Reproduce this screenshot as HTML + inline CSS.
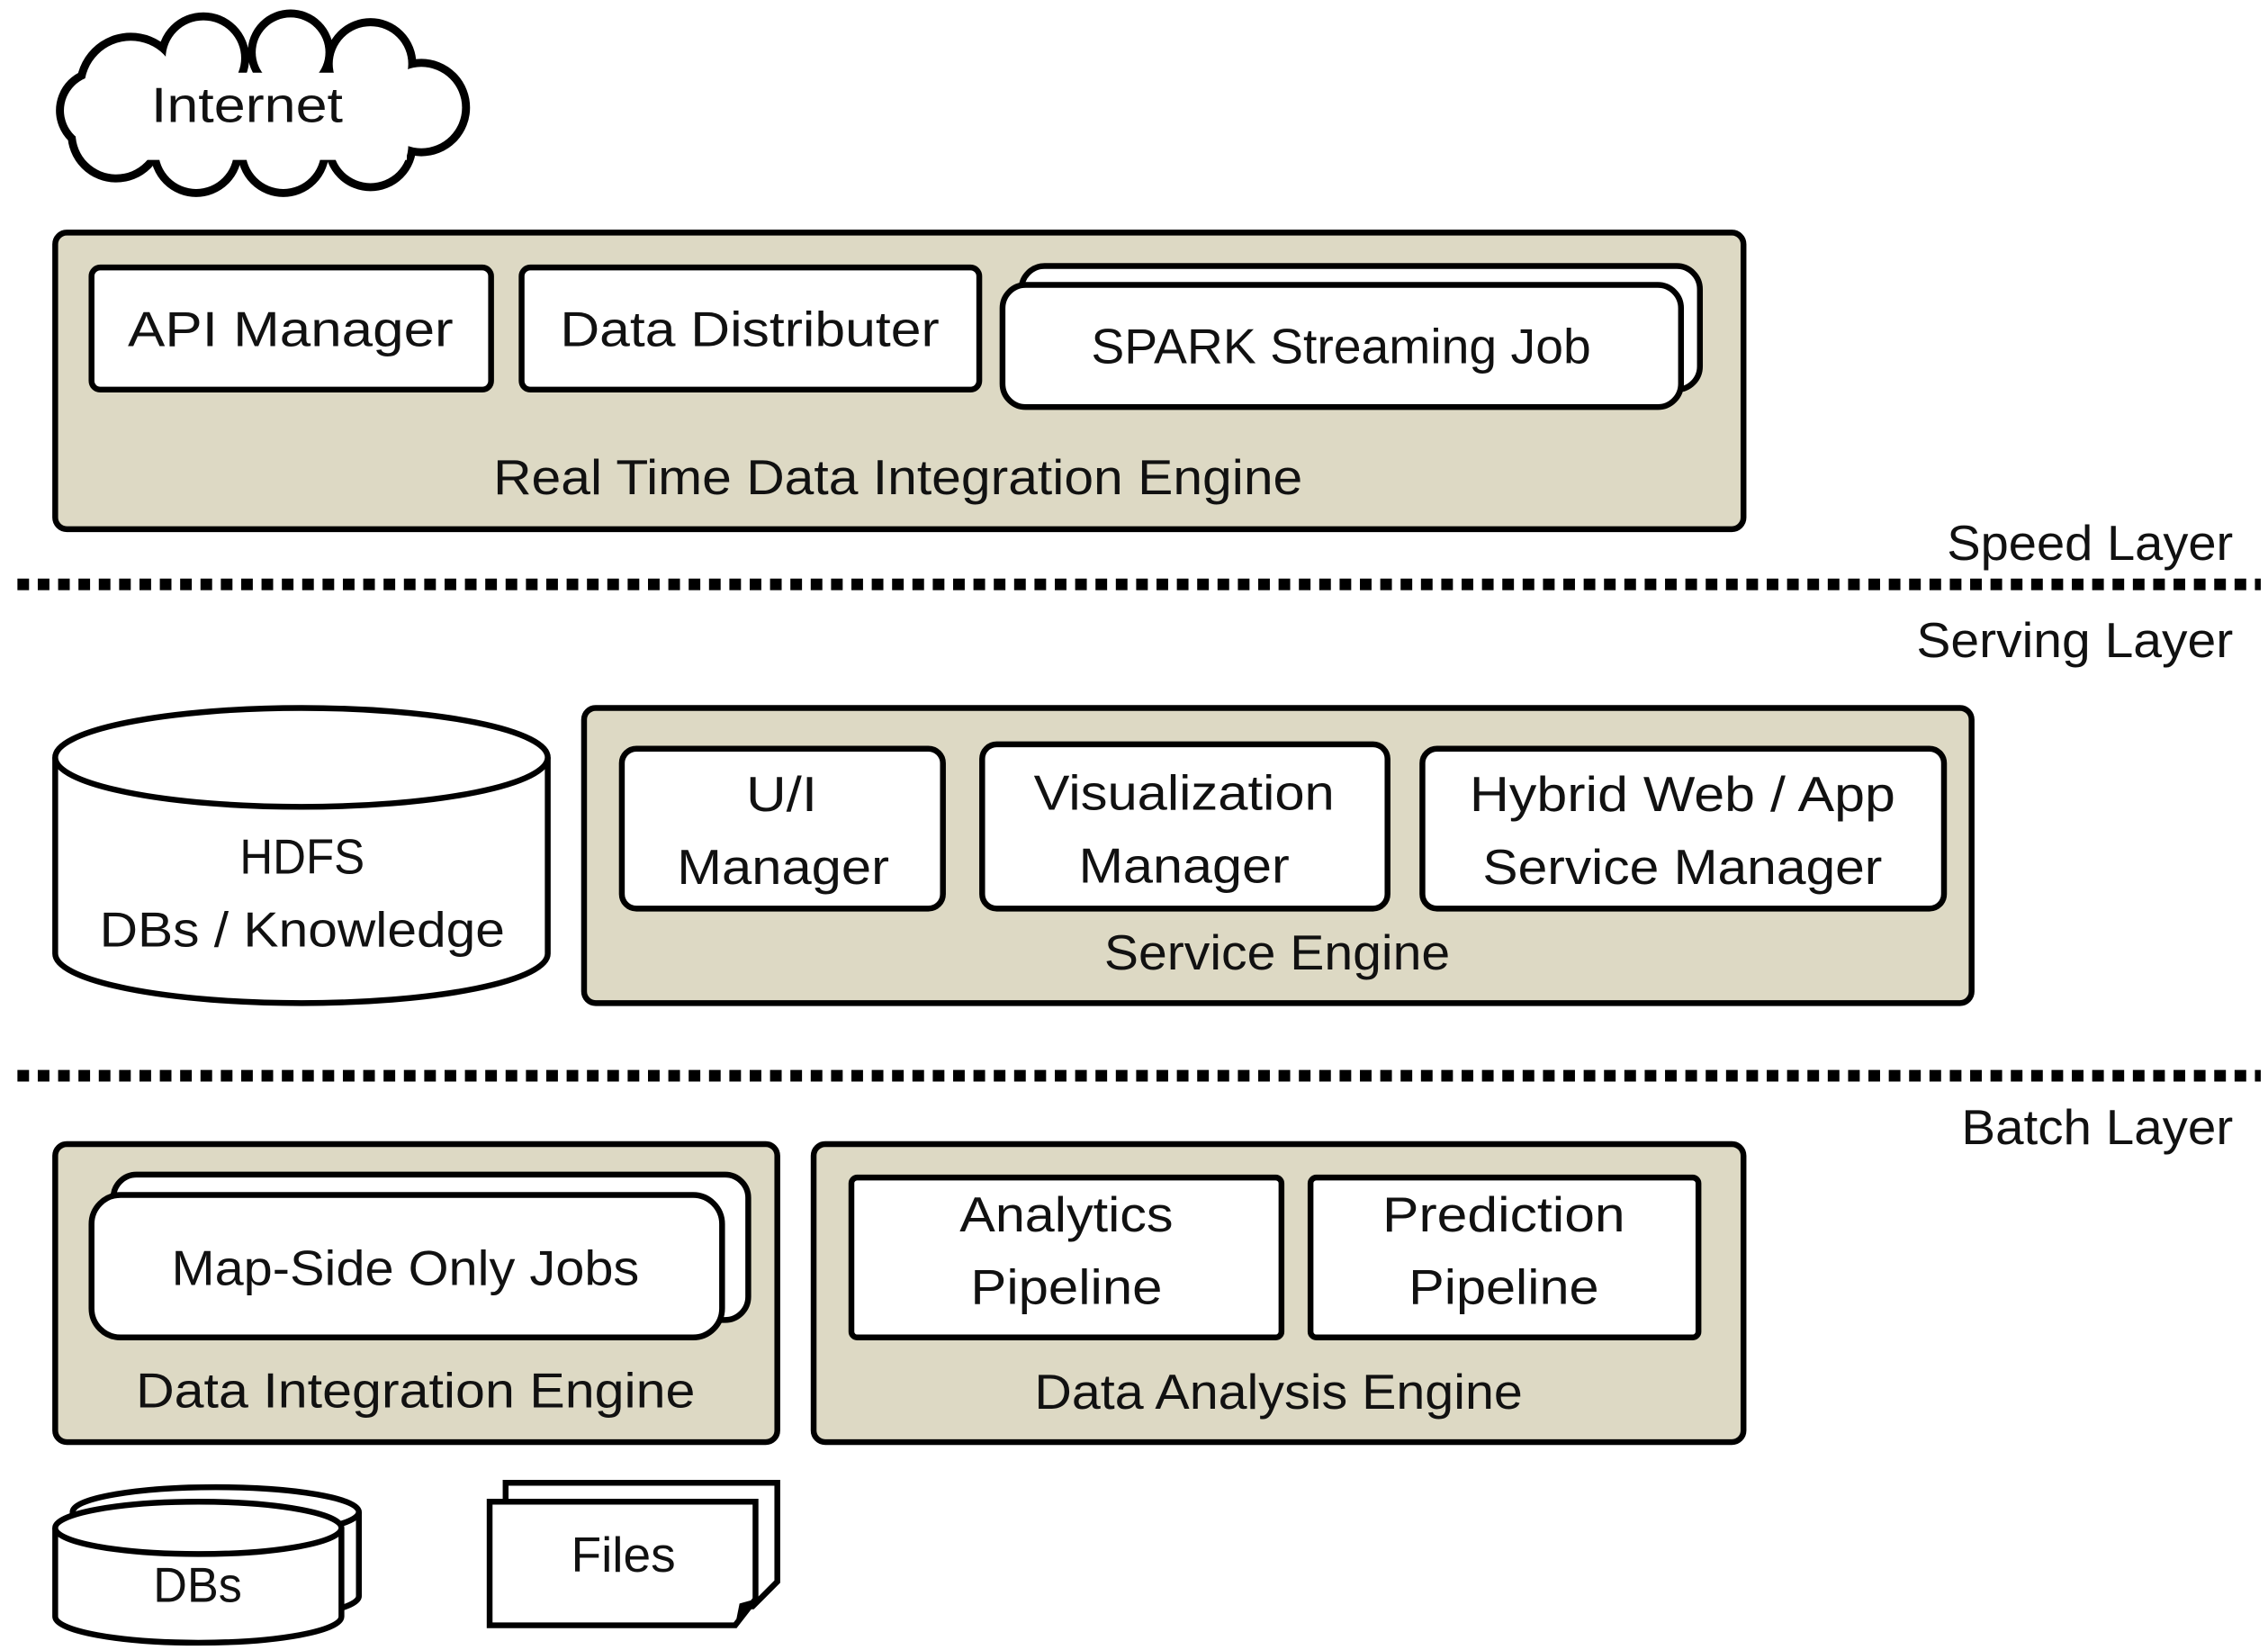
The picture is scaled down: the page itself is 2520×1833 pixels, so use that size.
<!DOCTYPE html>
<html><head><meta charset="utf-8"><style>
html,body{margin:0;padding:0;background:#fff}
svg{display:block}
text{font-family:"Liberation Sans",sans-serif;fill:#111;text-anchor:middle;font-size:34px}
.r{text-anchor:end}
</style></head><body>
<svg width="2520" height="1833" viewBox="0 0 1561 1135" preserveAspectRatio="none" xmlns="http://www.w3.org/2000/svg">
<!-- Cloud -->
<g stroke="#000" stroke-width="7" fill="#fff">
<circle cx="90" cy="60" r="34"/><circle cx="140" cy="40" r="28"/><circle cx="200" cy="36" r="26"/><circle cx="255" cy="44" r="28"/><circle cx="290" cy="74" r="30"/><circle cx="255" cy="100" r="28"/><circle cx="195" cy="104" r="28"/><circle cx="135" cy="104" r="28"/><circle cx="80" cy="92" r="30"/><circle cx="68" cy="76" r="26"/>
</g>
<g fill="#fff">
<circle cx="90" cy="60" r="32"/><circle cx="140" cy="40" r="26"/><circle cx="200" cy="36" r="24"/><circle cx="255" cy="44" r="26"/><circle cx="290" cy="74" r="28"/><circle cx="255" cy="100" r="26"/><circle cx="195" cy="104" r="26"/><circle cx="135" cy="104" r="26"/><circle cx="80" cy="92" r="28"/><circle cx="68" cy="76" r="24"/>
<rect x="80" y="50" width="200" height="60"/>
</g>
<text x="170" y="84" textLength="132" lengthAdjust="spacingAndGlyphs">Internet</text>

<!-- Real time engine -->
<rect x="38" y="160" width="1162" height="204" rx="8" fill="#ddd9c4" stroke="#000" stroke-width="4"/>
<rect x="63" y="184" width="275" height="84" rx="6" fill="#fff" stroke="#000" stroke-width="4"/>
<text x="200" y="238" textLength="224" lengthAdjust="spacingAndGlyphs">API Manager</text>
<rect x="359" y="184" width="315" height="84" rx="6" fill="#fff" stroke="#000" stroke-width="4"/>
<text x="516" y="238" textLength="261" lengthAdjust="spacingAndGlyphs">Data Distributer</text>
<rect x="703" y="183" width="467" height="85" rx="16" fill="#fff" stroke="#000" stroke-width="4"/>
<rect x="690" y="196" width="467" height="84" rx="16" fill="#fff" stroke="#000" stroke-width="4"/>
<text x="923" y="250" textLength="344" lengthAdjust="spacingAndGlyphs">SPARK Streaming Job</text>
<text x="618" y="340" textLength="557" lengthAdjust="spacingAndGlyphs">Real Time Data Integration Engine</text>

<text class="r" x="1537" y="385" textLength="197" lengthAdjust="spacingAndGlyphs">Speed Layer</text>
<line x1="12" y1="402" x2="1556" y2="402" stroke="#000" stroke-width="8" stroke-dasharray="8 6"/>
<text class="r" x="1537" y="452" textLength="218" lengthAdjust="spacingAndGlyphs">Serving Layer</text>

<!-- HDFS -->
<path d="M38 521 L38 656 A169.5 34 0 0 0 377 656 L377 521" fill="#fff" stroke="#000" stroke-width="4"/>
<ellipse cx="207.5" cy="521" rx="169.5" ry="34" fill="#fff" stroke="#000" stroke-width="4"/>
<text x="208" y="601" textLength="86" lengthAdjust="spacingAndGlyphs">HDFS</text>
<text x="208" y="651" textLength="279" lengthAdjust="spacingAndGlyphs">DBs / Knowledge</text>

<!-- Service engine -->
<rect x="402" y="487" width="955" height="203" rx="8" fill="#ddd9c4" stroke="#000" stroke-width="4"/>
<rect x="428" y="515" width="221" height="110" rx="10" fill="#fff" stroke="#000" stroke-width="4"/>
<text x="538" y="558" textLength="49" lengthAdjust="spacingAndGlyphs">U/I</text>
<text x="539" y="608" textLength="146" lengthAdjust="spacingAndGlyphs">Manager</text>
<rect x="676" y="512" width="279" height="113" rx="10" fill="#fff" stroke="#000" stroke-width="4"/>
<text x="815" y="557" textLength="207" lengthAdjust="spacingAndGlyphs">Visualization</text>
<text x="815" y="607" textLength="145" lengthAdjust="spacingAndGlyphs">Manager</text>
<rect x="979" y="515" width="359" height="110" rx="10" fill="#fff" stroke="#000" stroke-width="4"/>
<text x="1158" y="558" textLength="293" lengthAdjust="spacingAndGlyphs">Hybrid Web / App</text>
<text x="1158" y="608" textLength="275" lengthAdjust="spacingAndGlyphs">Service Manager</text>
<text x="879" y="667" textLength="238" lengthAdjust="spacingAndGlyphs">Service Engine</text>

<line x1="12" y1="740" x2="1556" y2="740" stroke="#000" stroke-width="8" stroke-dasharray="8 6"/>
<text class="r" x="1537" y="787" textLength="187" lengthAdjust="spacingAndGlyphs">Batch Layer</text>

<!-- Data integration engine -->
<rect x="38" y="787" width="497" height="205" rx="8" fill="#ddd9c4" stroke="#000" stroke-width="4"/>
<rect x="78" y="808" width="437" height="100" rx="16" fill="#fff" stroke="#000" stroke-width="4"/>
<text x="296" y="846" textLength="322" lengthAdjust="spacingAndGlyphs">Map-Side Only Jobs</text>
<rect x="63" y="822" width="434" height="98" rx="20" fill="#fff" stroke="#000" stroke-width="4"/>
<text x="279" y="884" textLength="322" lengthAdjust="spacingAndGlyphs">Map-Side Only Jobs</text>
<text x="286" y="968" textLength="385" lengthAdjust="spacingAndGlyphs">Data Integration Engine</text>

<!-- Data analysis engine -->
<rect x="560" y="787" width="640" height="205" rx="8" fill="#ddd9c4" stroke="#000" stroke-width="4"/>
<rect x="586" y="810" width="296" height="110" rx="4" fill="#fff" stroke="#000" stroke-width="4"/>
<text x="734" y="847" textLength="147" lengthAdjust="spacingAndGlyphs">Analytics</text>
<text x="734" y="897" textLength="132" lengthAdjust="spacingAndGlyphs">Pipeline</text>
<rect x="902" y="810" width="267" height="110" rx="4" fill="#fff" stroke="#000" stroke-width="4"/>
<text x="1035" y="847" textLength="167" lengthAdjust="spacingAndGlyphs">Prediction</text>
<text x="1035" y="897" textLength="131" lengthAdjust="spacingAndGlyphs">Pipeline</text>
<text x="880" y="969" textLength="336" lengthAdjust="spacingAndGlyphs">Data Analysis Engine</text>

<!-- DBs -->
<path d="M50 1040 L50 1098 A98.5 17 0 0 0 247 1098 L247 1040" fill="#fff" stroke="#000" stroke-width="4"/>
<ellipse cx="148.5" cy="1040" rx="98.5" ry="17" fill="#fff" stroke="#000" stroke-width="4"/>
<path d="M38 1051 L38 1112 A98.5 18 0 0 0 235 1112 L235 1051" fill="#fff" stroke="#000" stroke-width="4"/>
<ellipse cx="136.5" cy="1051" rx="98.5" ry="18" fill="#fff" stroke="#000" stroke-width="4"/>
<text x="136" y="1102" textLength="61" lengthAdjust="spacingAndGlyphs">DBs</text>

<!-- Files -->
<path d="M348 1020 L535 1020 L535 1088 L518 1105 L348 1105 Z" fill="#fff" stroke="#000" stroke-width="4"/>
<path d="M337 1033 L520 1033 L520 1100 L506 1118 L337 1118 Z" fill="#fff" stroke="#000" stroke-width="4"/>
<path d="M506 1118 L509 1103 L520 1100 Z" fill="#000"/>
<text x="429" y="1081" textLength="72" lengthAdjust="spacingAndGlyphs">Files</text>
</svg>
</body></html>
